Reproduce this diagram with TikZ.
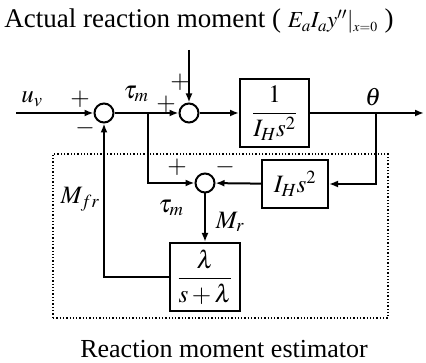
\documentclass[tikz,border=0pt]{standalone}
\usepackage{amsmath}
\usepackage{mathptmx}
\usepackage{fontspec}
\setmainfont{Liberation Serif}
\usetikzlibrary{arrows.meta, positioning}

\begin{document}
\begin{tikzpicture}[x=1pt, y=-1pt, font=\fontsize{25}{29}\selectfont,
  blk/.style={draw, line width=2pt, inner sep=0pt, minimum width=69pt,
              minimum height=68pt},
  sum/.style={draw, circle, line width=2pt, minimum size=19pt, inner sep=0pt},
  a/.style={-{Latex[length=9pt, width=7pt]}, line width=2pt},
  lbl/.style={inner sep=1pt},
  sg/.style={inner sep=0pt}]
\useasboundingbox (0,0) rectangle (426,363);
\node[anchor=base, inner sep=0pt, font=\fontsize{27}{30}\selectfont] (title) at (199,28)
  {Actual reaction moment ( {\fontsize{23}{27}\selectfont
   $E_a I_a y''\mathclose{|}_{\scriptscriptstyle x=0}$} )};
\node[sum] (s1) at (104,113) {};
\node[sum] (s2) at (189,113) {};
\node[sum] (s3) at (205,183) {};
\node[blk] (g1) at (274.5,113) {$\dfrac{1}{I_H s^2}$};
\node[blk, minimum width=66pt, minimum height=48pt] (g2) at (295,184) {$I_H s^2$};
\node[blk, minimum width=70pt] (g3) at (205,277) {$\dfrac{\lambda}{s+\lambda}$};
\node[draw, dotted, line width=1.3pt, minimum width=335pt, minimum height=164pt]
  (est) at (220.5,236) {};
\node[anchor=base, inner sep=0pt, font=\fontsize{26}{30}\selectfont] (cap) at (224,358)
  {Reaction moment estimator};
\coordinate (in) at (16,113);
\coordinate (out) at (424,113);
\coordinate (top) at (189,50);
\coordinate (br1) at (148,113);
\coordinate (br2) at (376,113);
% signals and signs
\node[lbl] (uv) at (32,99) {$u_v$};
\node[sg] (p1) at (80,99) {$+$};
\node[sg] (m1) at (85,128) {$-$};
\node[lbl] (tm1) at (136,94) {$\tau_m$};
\node[sg] (p2) at (166,104) {$+$};
\node[sg] (p3) at (180,82) {$+$};
\node[lbl] (th) at (373,97) {$\theta$};
\node[sg] (p4) at (177,167) {$+$};
\node[sg] (m2) at (225,167) {$-$};
\node[lbl] (tm2) at (171,208) {$\tau_m$};
\node[lbl] (mr) at (230,222) {$M_r$};
\node[lbl] (mfr) at (80,199) {$M_{fr}$};
\draw[a] (in) -- (s1);
\draw[a] (s1) -- (s2);
\draw[a] (top) -- (s2);
\draw[a] (s2) -- (g1);
\draw[a] (g1) -- (out);
\draw[a] (br1) |- (s3);
\draw[a] (br2) |- (g2);
\draw[a] (g2) -- (s3);
\draw[a] (s3) -- (g3);
\draw[a] (g3) -| (s1);
\end{tikzpicture}
\end{document}
